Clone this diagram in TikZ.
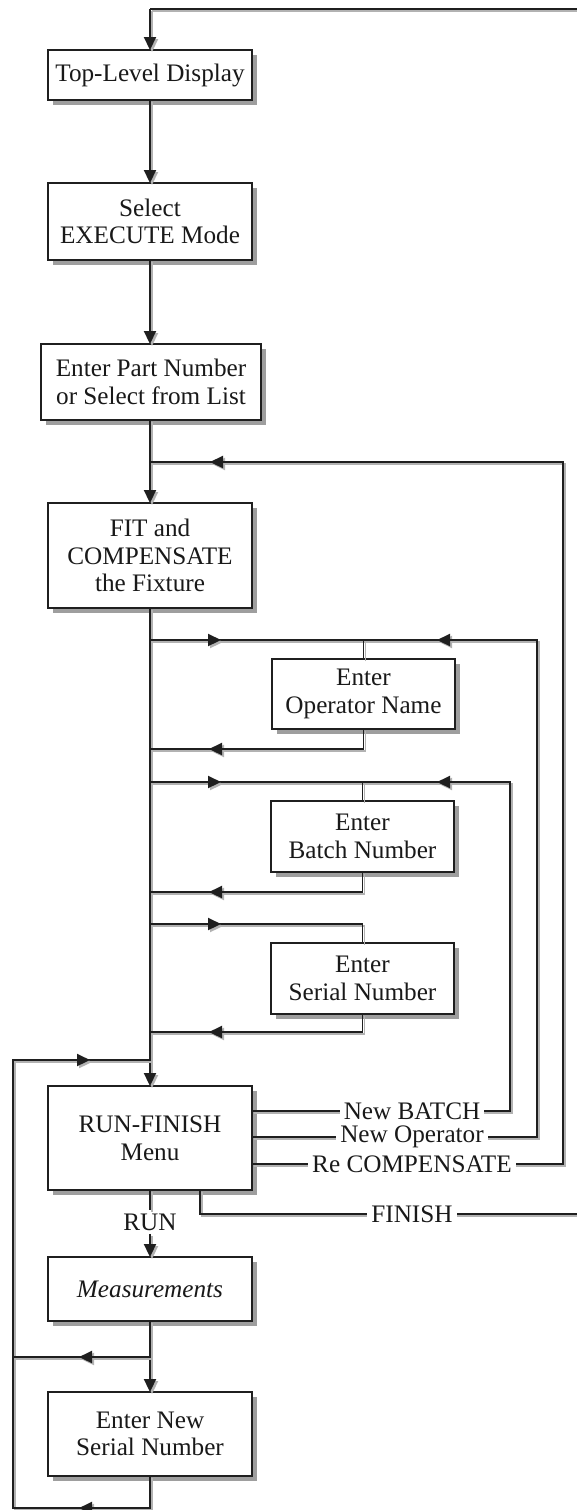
\documentclass[tikz,border=0pt]{standalone}
\usepackage{fontspec}
\setmainfont{Liberation Serif}
\usetikzlibrary{arrows.meta,shadows,calc}
\newcommand\dfont{\fontsize{12.6}{13.8}\selectfont}
\newcommand\wire[2][]{%
  \draw[wshade,#1] #2;
  \draw[wline,#1] #2;}
\tikzset{
  wshade/.style={draw=black!30, transform canvas={shift={(1pt,-1pt)}}},
  wline/.style={draw=black!88},
  fine/.style={line width=0.55pt},
  mid/.style={line width=0.75pt},
  trunk/.style={line width=1.1pt},
  tip/.style={-{Triangle[length=6.5pt,width=6pt]}},
  box/.style={draw=black!88, line width=0.65pt, fill=white, align=center,
    inner sep=0pt, outer sep=0pt, font=\dfont, text=black!90,
    drop shadow={shadow xshift=2.5pt, shadow yshift=-2.5pt, fill=black!38, opacity=1}},
  lbl/.style={fill=white, inner sep=2pt, font=\dfont, text=black!90},
}
\begin{document}
\begin{tikzpicture}[x=0.5pt,y=-0.5pt]
\useasboundingbox (0,0) rectangle (577,1510);
% boxes
\node[box, minimum width=102pt, minimum height=25pt] (top) at (150,75) {Top-Level Display};
\node[box, minimum width=102pt, minimum height=38.5pt] (sel) at (150,221.5) {Select\\EXECUTE Mode};
\node[box, minimum width=110pt, minimum height=38pt] (part) at (151,382) {Enter Part Number\\or Select from List};
\node[box, minimum width=102pt, minimum height=52.5pt] (fit) at (150,555.5) {FIT and\\COMPENSATE\\the Fixture};
\node[box, minimum width=91.5pt, minimum height=35pt] (op) at (363.5,694) {Enter\\Operator Name};
\node[box, minimum width=91.5pt, minimum height=35.5pt] (batch) at (362.5,836.5) {Enter\\Batch Number};
\node[box, minimum width=91.5pt, minimum height=35.5pt] (serial) at (362.5,978.5) {Enter\\Serial Number};
\node[box, minimum width=102pt, minimum height=52pt] (run) at (150,1138) {RUN-FINISH\\Menu};
\node[box, minimum width=102pt, minimum height=32pt] (meas) at (150,1289) {\itshape Measurements};
\node[box, minimum width=102pt, minimum height=42pt] (nserial) at (150,1434) {Enter New\\Serial Number};
\node[lbl, inner sep=1.5pt] (lblRun) at (150,1222) {RUN};
% coordinates
\coordinate (tr) at (577,9); \coordinate (tl) at (150,9);
\coordinate (rc1) at (563,1164); \coordinate (rc2) at (563,462); \coordinate (rc3) at (150,462);
\coordinate (rcA) at (257,462); \coordinate (rcB) at (210,462);
\coordinate (o1) at (150,640); \coordinate (o2) at (537,640); \coordinate (o3) at (537,1137);
\coordinate (o4) at (150,749);
\coordinate (oA1) at (165,640); \coordinate (oA2) at (221,640);
\coordinate (oB1) at (460,640); \coordinate (oB2) at (437,640);
\coordinate (oC1) at (257,749); \coordinate (oC2) at (209,749);
\coordinate (b1) at (150,782); \coordinate (b2) at (510,782); \coordinate (b3) at (510,1111);
\coordinate (b4) at (150,892);
\coordinate (bA1) at (175,782); \coordinate (bA2) at (221,782);
\coordinate (bB1) at (460,782); \coordinate (bB2) at (437,782);
\coordinate (bC1) at (257,892); \coordinate (bC2) at (209,892);
\coordinate (s1) at (150,924); \coordinate (s4) at (150,1032);
\coordinate (sA1) at (175,924); \coordinate (sA2) at (221,924);
\coordinate (sC1) at (257,1032); \coordinate (sC2) at (209,1032);
\coordinate (l1) at (150,1357); \coordinate (l2) at (13,1357);
\coordinate (l3) at (150,1508); \coordinate (l4) at (13,1508);
\coordinate (l5) at (13,1060); \coordinate (l6) at (150,1060);
\coordinate (lA1) at (100,1357); \coordinate (lA2) at (79,1357);
\coordinate (lB1) at (100,1508); \coordinate (lB2) at (79,1508);
\coordinate (lC1) at (63,1060); \coordinate (lC2) at (90,1060);
\coordinate (f1) at (200,1214); \coordinate (f2) at (577,1214);
% top feedback
\wire[mid]{(tr) -- (tl)}
\wire[trunk,tip]{(tl) -- (top.north)}
% trunk
\wire[trunk,tip]{(top.south) -- (sel.north)}
\wire[trunk,tip]{(sel.south) -- (sel.south |- part.north)}
\wire[trunk,tip]{(fit.north |- part.south) -- (fit.north)}
\wire[trunk,tip]{(fit.south) -- (run.north)}
\wire[fine]{(run.south) -- (lblRun.north)}
\wire[trunk,tip]{(lblRun.south) -- (meas.north)}
\wire[trunk,tip]{(meas.south) -- (nserial.north)}
% Re COMPENSATE loop
\wire[fine]{(run.east |- rc1) -- (rc1) -- (rc2) -- (rc3)}
\wire[trunk,tip]{(rcA) -- (rcB)}
% operator loop
\wire[fine]{(o1) -- (o2) -- (o3) -- (run.east |- o3)}
\wire[fine]{(op.north) -- (op.north |- o1)}
\wire[fine]{(op.south) -- (op.south |- o4) -- (o4)}
\wire[trunk,tip]{(oA1) -- (oA2)}
\wire[trunk,tip]{(oB1) -- (oB2)}
\wire[trunk,tip]{(oC1) -- (oC2)}
% batch loop
\wire[fine]{(b1) -- (b2) -- (b3) -- (run.east |- b3)}
\wire[fine]{(batch.north) -- (batch.north |- b1)}
\wire[fine]{(batch.south) -- (batch.south |- b4) -- (b4)}
\wire[trunk,tip]{(bA1) -- (bA2)}
\wire[trunk,tip]{(bB1) -- (bB2)}
\wire[trunk,tip]{(bC1) -- (bC2)}
% serial loop
\wire[fine]{(s1) -- (s1 -| serial.north) -- (serial.north)}
\wire[fine]{(serial.south) -- (serial.south |- s4) -- (s4)}
\wire[trunk,tip]{(sA1) -- (sA2)}
\wire[trunk,tip]{(sC1) -- (sC2)}
% lower loop
\wire[fine]{(nserial.south) -- (l3) -- (l4) -- (l5) -- (l6)}
\wire[fine]{(l1) -- (l2)}
\wire[trunk,tip]{(lA1) -- (lA2)}
\wire[trunk,tip]{(lB1) -- (lB2)}
\wire[trunk,tip]{(lC1) -- (lC2)}
% finish
\wire[fine]{(run.south -| f1) -- (f1) -- (f2)}
% labels
\node[lbl] (lblB) at (412,1111) {New BATCH};
\node[lbl] (lblO) at (412,1137) {New Operator};
\node[lbl] (lblC) at (412,1164) {Re COMPENSATE};
\node[lbl] (lblF) at (412,1214) {FINISH};
\end{tikzpicture}
\end{document}
